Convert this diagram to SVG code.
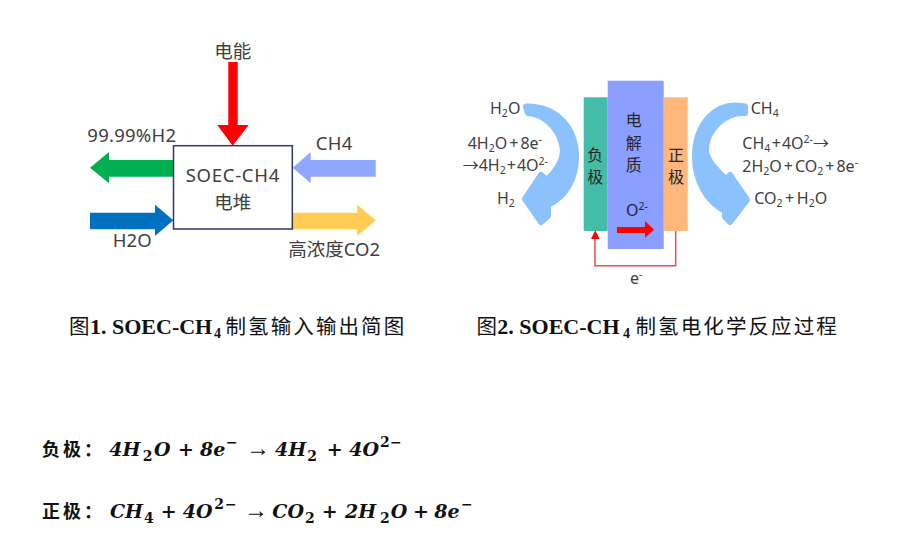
<svg xmlns="http://www.w3.org/2000/svg" width="906" height="556" viewBox="0 0 906 556">
<style>
text{font-family:"Noto Sans","Noto Sans CJK SC",sans-serif;fill:#404040}
.a{font-size:18.5px}
.b{font-size:16px}
.c{font-size:16px;fill:#262626;text-anchor:middle}
.s{font-size:10.5px}
.cap{font-family:"Liberation Serif","Noto Sans CJK SC",serif;font-size:22px;fill:#111}
.cap .l{font-weight:700}
.cap .z{font-family:"Noto Sans CJK SC",sans-serif;font-size:20.5px;letter-spacing:2.1px}
.cap .u{font-size:14px;font-weight:700}
.eq{font-family:"DejaVu Serif",serif;font-size:19px;font-weight:700;font-style:italic;fill:#111}
.eq .n{font-style:normal}
.eq .m{font-size:14px;font-style:normal}
.eq .z{font-family:"Noto Sans CJK SC",sans-serif;font-size:18px;font-style:normal;font-weight:700}
.eq .r{font-family:"Liberation Serif",serif;font-style:normal;font-weight:400;font-size:24px}
.curve{fill:#8cc2fb;stroke:#8cc2fb;stroke-width:6;stroke-linejoin:round}
</style>
<g id="connectors">
<polygon fill="#ff0000" points="228.3,62 237.7,62 237.7,125 248.7,125 232.7,145.7 217.3,125 228.3,125"/>
<polygon fill="#00b050" points="173.3,160 109,160 109,152 90,167.7 109,183.3 109,176.7 173.3,176.7"/>
<polygon fill="#8ea9ff" points="375.7,160 310.7,160 310.7,152 292.7,167.7 310.7,183.3 310.7,176.7 375.7,176.7"/>
<polygon fill="#0070c0" points="90,212.7 155,212.7 155,204.7 173.3,220.3 155,236 155,229.3 90,229.3"/>
<polygon fill="#ffcd55" points="292.3,212.7 357.3,212.7 357.3,204.7 375.7,220.3 357.3,236 357.3,229.3 292.3,229.3"/>
<path class="curve" d="M526 106.5C556 106 576 127 576 157C576 178 566 197 548 205L548 216L541 222L525 199L541 175L547 180C556 172 563 160 563 150C561 130 545 114 528 113Z"/>
<path class="curve" d="M745 106.5C715 100 695 125 695 157C695 180 706 201 725 211L725 217L730 222L747 200L730 175L726 179C716 170 706 160 706 150C706 130 725 112 745 113Z"/>
</g>
<g id="node-stack">
<rect x="173.5" y="145.7" width="118.8" height="83.3" fill="#fff" stroke="#2f3a60" stroke-width="1.5"/>
<text class="a" x="185.7" y="182.3" textLength="93.6">SOEC-CH4</text>
<text class="a" x="232.7" y="209" text-anchor="middle">电堆</text>
</g>
<g id="labels-fig1">
<text class="a" x="232.7" y="58" text-anchor="middle">电能</text>
<text class="a" x="87.3" y="142.3" textLength="88.7">99.99%H2</text>
<text class="a" x="315.7" y="150" textLength="36.6">CH4</text>
<text class="a" x="112.7" y="247.3" textLength="39">H2O</text>
<text class="a" x="288.3" y="256" textLength="91.7">高浓度CO2</text>
</g>
<g id="node-anode">
<rect x="583.7" y="97.3" width="24" height="133.7" fill="#45bca8"/>
<text class="c" x="595.3" y="161">负</text>
<text class="c" x="595.3" y="182.5">极</text>
</g>
<g id="node-cathode">
<rect x="663.7" y="97.3" width="24" height="133.7" fill="#ffb77c"/>
<text class="c" x="676" y="161">正</text>
<text class="c" x="676" y="182.5">极</text>
</g>
<g id="node-electrolyte">
<rect x="607.7" y="80.7" width="56" height="168.3" fill="#8a9fff"/>
<text class="c" x="633.7" y="126">电</text>
<text class="c" x="633.7" y="148.5">解</text>
<text class="c" x="633.7" y="171">质</text>
<text class="b" x="626" y="216" style="fill:#262626">O<tspan class="s" dy="-6">2-</tspan></text>
</g>
<g id="connectors-cell">
<polygon fill="#ff0000" points="617,227 645,227 645,221 654,229.7 645,237.7 645,233 617,233"/>
<polyline points="675.7,231 675.7,265.7 595,265.7 595,238" fill="none" stroke="#f44a4a" stroke-width="1.5"/>
<polygon fill="#ff0000" points="595.3,230.3 599.7,239 591,239"/>
</g>
<g id="labels-fig2">
<text class="b" x="490" y="114.3">H<tspan class="s" dy="3">2</tspan><tspan dy="-3">O</tspan></text>
<text class="b" x="467.7" y="149.3">4H<tspan class="s" dy="3">2</tspan><tspan dy="-3">O</tspan><tspan dx="2">+</tspan><tspan dx="2">8e</tspan><tspan class="s" dy="-6">-</tspan></text>
<text class="b" x="462.7" y="171">→4H<tspan class="s" dy="3">2</tspan><tspan dy="-3" dx="1">+</tspan><tspan dx="1">4O</tspan><tspan class="s" dy="-6">2-</tspan></text>
<text class="b" x="497" y="204">H<tspan class="s" dy="3">2</tspan></text>
<text class="b" x="630" y="284">e<tspan class="s" dy="-6">-</tspan></text>
<text class="b" x="750.7" y="114.3">CH<tspan class="s" dy="3">4</tspan></text>
<text class="b" x="742.3" y="149.3">CH<tspan class="s" dy="3">4</tspan><tspan dy="-3" dx="1.5">+</tspan><tspan dx="1">4O</tspan><tspan class="s" dy="-6">2-</tspan><tspan dy="6">→</tspan></text>
<text class="b" x="742.3" y="172.3">2H<tspan class="s" dy="3">2</tspan><tspan dy="-3">O</tspan><tspan dx="2">+</tspan><tspan dx="2">CO</tspan><tspan class="s" dy="3">2</tspan><tspan dy="-3" dx="2">+</tspan><tspan dx="2">8e</tspan><tspan class="s" dy="-6">-</tspan></text>
<text class="b" x="754.3" y="204.3">CO<tspan class="s" dy="3">2</tspan><tspan dy="-3" dx="2.5">+</tspan><tspan dx="2.5">H</tspan><tspan class="s" dy="3">2</tspan><tspan dy="-3">O</tspan></text>
</g>
<g id="captions">
<text class="cap" y="334"><tspan class="z" x="69">图</tspan><tspan class="l" x="90">1. SOEC-CH</tspan><tspan class="u" x="214" y="338">4</tspan><tspan class="z" x="225.5" y="334">制氢输入输出简图</tspan></text>
<text class="cap" y="334"><tspan class="z" x="476.5">图</tspan><tspan class="l" x="497.3">2. SOEC-CH</tspan><tspan class="u" x="623" y="338">4</tspan><tspan class="z" x="635.5" y="334">制氢电化学反应过程</tspan></text>
</g>
<g id="equations">
<text class="eq" y="456"><tspan class="z" x="42" letter-spacing="3">负极：</tspan><tspan x="109.3">4H</tspan><tspan class="m" x="142.7" y="461">2</tspan><tspan x="154" y="456">O</tspan><tspan class="n" x="178">+</tspan><tspan x="200">8e</tspan><tspan class="n m" x="226" y="447">−</tspan><tspan class="r" x="246" y="456">→</tspan><tspan x="275">4H</tspan><tspan class="m" x="307.3" y="461">2</tspan><tspan class="n" x="326.7" y="456">+</tspan><tspan x="349.3">4O</tspan><tspan class="m" x="380" y="447">2</tspan><tspan class="n m" x="390" y="447">−</tspan></text>
<text class="eq" y="517.7"><tspan class="z" x="42" letter-spacing="3">正极：</tspan><tspan x="110">CH</tspan><tspan class="m" x="144" y="522.7">4</tspan><tspan class="n" x="160.7" y="517.7">+</tspan><tspan x="182.7">4O</tspan><tspan class="m" x="214.3" y="508.7">2</tspan><tspan class="n m" x="225" y="508.7">−</tspan><tspan class="r" x="244" y="517.7">→</tspan><tspan x="272.3">CO</tspan><tspan class="m" x="305" y="522.7">2</tspan><tspan class="n" x="321.7" y="517.7">+</tspan><tspan x="345">2H</tspan><tspan class="m" x="380" y="522.7">2</tspan><tspan x="390.7" y="517.7">O</tspan><tspan class="n" x="413">+</tspan><tspan x="434.3">8e</tspan><tspan class="n m" x="461" y="508.7">−</tspan></text>
</g>
</svg>
